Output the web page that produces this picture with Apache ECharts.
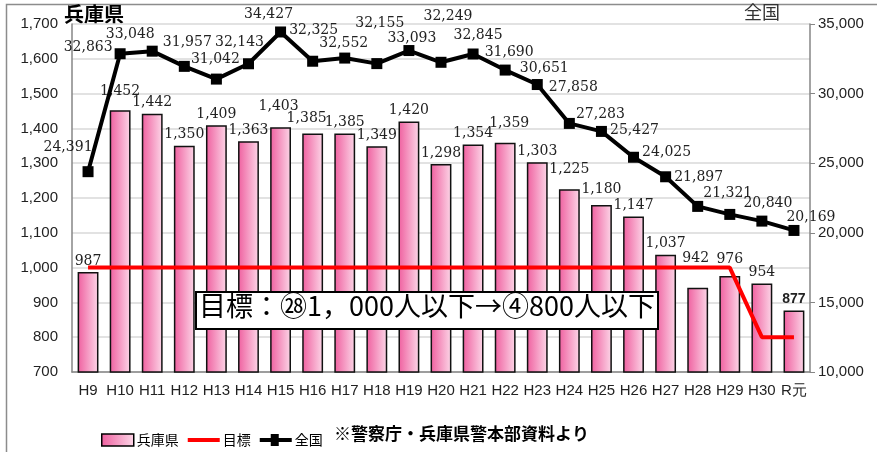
<!DOCTYPE html>
<html>
<head>
<meta charset="utf-8">
<script src="https://cdn.jsdelivr.net/npm/echarts@6/dist/echarts.min.js"></script>
<style>
  html, body { margin: 0; padding: 0; background: #fff; }
  #chart { width: 877px; height: 452px; }
</style>
</head>
<body>
<div id="chart"></div>
<script>
// 年次
var years = ['H9','H10','H11','H12','H13','H14','H15','H16','H17','H18','H19','H20',
  'H21','H22','H23','H24','H25','H26','H27','H28','H29','H30','R元'];
// 兵庫県（左軸）
var hyogo = [987,1452,1442,1350,1409,1363,1403,1385,1385,1349,1420,1298,
  1354,1359,1303,1225,1180,1147,1037,942,976,954,877];
// 全国（右軸）
var zenkoku = [24391,32863,33048,31957,31042,32143,34427,32325,32552,32155,33093,32249,
  32845,31690,30651,27858,27283,25427,24025,21897,21321,20840,20169];
// 目標
var target = [1000,1000,1000,1000,1000,1000,1000,1000,1000,1000,1000,1000,
  1000,1000,1000,1000,1000,1000,1000,1000,1000,800,800];
var leftTicks = [700, 1700, 100];
var rightTicks = [10000, 35000, 5000];

// ラベル位置の微調整
var lineOffsets = [[-20,-7],[-32,11],[-22,1],[3,-6],[-1,-2],[-9,-4],[-12,0],[1,-13],[-1,3],[3,-23],
  [3,5],[7,-28],[5,-1],[4,0],[7,1],[4,-19],[-1,0],[1,-9],[1,-7],[1,-12],[-2,-4],[6,0],[17,4]];
var barOffsets = {1:[0,-8], 6:[-2,-10], 7:[-6,-4], 13:[4,-8], 15:[0,-9], 16:[0,-5], 19:[-2,-18], 20:[0,-6]};

var serif = 'DejaVu Serif';
var chart = echarts.init(document.getElementById('chart'));

var barGrad = new echarts.graphic.LinearGradient(0, 0, 1, 0, [
  { offset: 0, color: '#ef5f9f' },
  { offset: 1, color: '#fcd7e8' }
]);

var barData = hyogo.map(function (v, i) {
  var item = { value: v };
  if (barOffsets[i]) item.label = { offset: barOffsets[i] };
  if (i === hyogo.length - 1) {
    item.label = { fontFamily: 'Liberation Sans', fontWeight: 'bold', formatter: '877' };
  }
  return item;
});
var lineData = zenkoku.map(function (v, i) {
  return { value: v, label: { offset: lineOffsets[i] } };
});

chart.setOption({
  animation: false,
  grid: { left: 72, right: 67, top: 24, bottom: 80 },
  legend: {
    left: 96, top: 428,
    itemGap: 9, itemWidth: 32, itemHeight: 12,
    textStyle: { fontSize: 14, color: '#000', fontFamily: 'Noto Sans CJK JP', padding: [0,0,0,-2] },
    data: [
      { name: '兵庫県', icon: 'rect', itemStyle: { borderColor: '#000', borderWidth: 1.5 } },
      { name: '目標', icon: 'path://M0,5 L32,5 L32,9 L0,9 Z' },
      { name: '全国', icon: 'path://M0,5 L11,5 L11,1 L19,1 L19,5 L32,5 L32,9 L19,9 L19,13 L11,13 L11,9 L0,9 Z' }
    ]
  },
  xAxis: {
    type: 'category',
    data: years,
    axisLine: { lineStyle: { color: '#868686', width: 1.5 } },
    axisTick: { show: false },
    axisLabel: { color: '#222', fontSize: 15, fontFamily: 'Liberation Sans', margin: 11, interval: 0 }
  },
  yAxis: [
    {
      type: 'value', min: leftTicks[0], max: leftTicks[1], interval: leftTicks[2],
      axisLine: { show: true, lineStyle: { color: '#868686', width: 1.5 } },
      axisTick: { show: false },
      axisLabel: { color: '#222', fontSize: 15, fontFamily: 'Liberation Sans', margin: 14 },
      splitLine: { lineStyle: { color: '#d9d9d9', width: 1.5 } }
    },
    {
      type: 'value', min: rightTicks[0], max: rightTicks[1], interval: rightTicks[2],
      axisLine: { show: true, lineStyle: { color: '#868686', width: 1.5 } },
      axisTick: { show: true, length: 5, lineStyle: { color: '#868686' } },
      axisLabel: { color: '#222', fontSize: 15, fontFamily: 'Liberation Sans', margin: 8 },
      splitLine: { show: false }
    }
  ],
  series: [
    {
      name: '兵庫県', type: 'bar', data: barData, barWidth: '65%',
      itemStyle: { color: barGrad, borderColor: '#111', borderWidth: 1.5 },
      label: {
        show: true, position: 'top', distance: 4, color: '#222',
        fontFamily: serif, fontSize: 14,
        formatter: function (p) { return p.value.toLocaleString('en-US'); }
      },
      z: 2
    },
    {
      name: '目標', type: 'line', data: target, symbol: 'none',
      lineStyle: { color: '#ff0000', width: 4 },
      itemStyle: { color: '#ff0000' },
      z: 3
    },
    {
      name: '全国', type: 'line', yAxisIndex: 1, data: lineData,
      symbol: 'rect', symbolSize: 11,
      lineStyle: { color: '#000', width: 4 },
      itemStyle: { color: '#000' },
      label: {
        show: true, position: 'top', distance: 5, color: '#222',
        fontFamily: serif, fontSize: 14,
        formatter: function (p) { return p.value.toLocaleString('en-US'); }
      },
      z: 4
    }
  ],
  graphic: [
    { type: 'rect', left: 4, top: 2, shape: { width: 900, height: 500 },
      style: { fill: 'none', stroke: '#8c8c8c', lineWidth: 1.5 }, silent: true },
    { type: 'text', left: 64, top: 4,
      style: { text: '兵庫県', font: 'bold 20px "Noto Sans CJK JP"', fill: '#000' } },
    { type: 'text', left: 744, top: 3,
      style: { text: '全国', font: '18px "Noto Sans CJK JP"', fill: '#333' } },
    { type: 'rect', left: 195, top: 291, z: 100, zlevel: 1,
      shape: { width: 462, height: 37 },
      style: { fill: '#fff', stroke: '#000', lineWidth: 2 } },
    { type: 'text', left: 199, top: 292, z: 101, zlevel: 1,
      style: { text: '目標：㉘1，000人以下→④800人以下', font: '27px "Noto Sans CJK JP"',
        fill: '#000' } },
    { type: 'text', left: 334, top: 425,
      style: { text: '※警察庁・兵庫県警本部資料より', font: 'bold 17px "Noto Sans CJK JP"', fill: '#000' } }
  ]
});
</script>
</body>
</html>
